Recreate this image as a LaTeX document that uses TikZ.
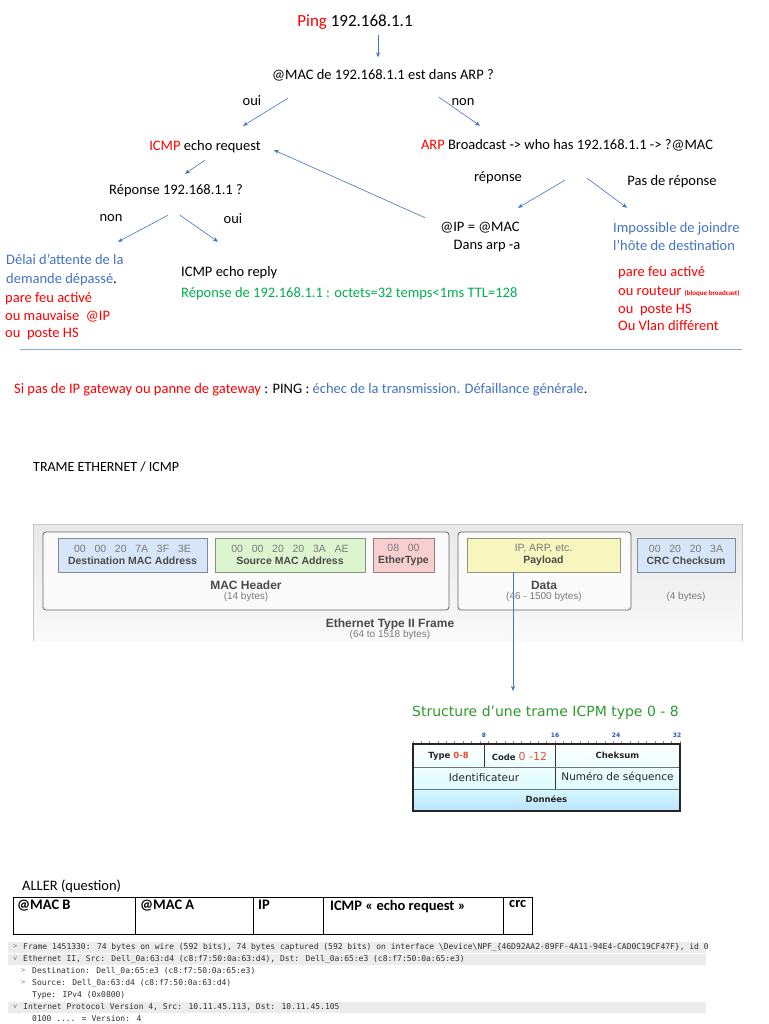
\documentclass[tikz,border=0pt]{standalone}
\usepackage{fontspec}
\setmainfont{Carlito}
\newfontfamily\ethfont{Liberation Sans}
\newfontfamily\vfont{DejaVu Sans}
\newfontfamily\wsfont{DejaVu Sans Mono}
\usetikzlibrary{arrows.meta,calc}
\definecolor{pred}{HTML}{FF0000}
\definecolor{pblue}{HTML}{4472C4}
\definecolor{pgreen}{HTML}{00B050}
\definecolor{arr}{HTML}{4472C4}
\definecolor{sepc}{HTML}{8FAADC}
\definecolor{ethtxt}{HTML}{4A4A4A}
\definecolor{ethhex}{HTML}{7A7A7A}
\definecolor{ored}{HTML}{E8502A}
\definecolor{rulerblue}{HTML}{2A4FC0}
\definecolor{tgreen}{HTML}{2E9B2E}
\definecolor{wsgray}{HTML}{ECECEC}
\definecolor{wstxt}{HTML}{303030}
\definecolor{cblue}{HTML}{D6E6F8}
\definecolor{cgreen}{HTML}{DDF5CF}
\definecolor{cpink}{HTML}{F8CFCF}
\definecolor{cyellow}{HTML}{F6F6BE}
\tikzset{
  txt/.style={inner sep=0pt, text height=10pt, text depth=3pt, font=\fontsize{14.5}{17.5}\selectfont},
  conn/.style={draw=arr, line width=0.6pt, -{Stealth[length=5pt,width=4pt]}},
  ethcell/.style={draw=#1!60!black, line width=0.8pt, fill=#1},
  ethlab/.style={inner sep=0pt, align=center, font=\ethfont\fontsize{10.5}{12}\selectfont, text=ethtxt},
  ethbig/.style={inner sep=0pt, font=\ethfont\bfseries\fontsize{12}{13}\selectfont, text=ethtxt},
  ethsmall/.style={inner sep=0pt, font=\ethfont\fontsize{10}{11}\selectfont, text=ethhex},
  vtxt/.style={inner sep=0pt, font=\vfont\fontsize{9.5}{11}\selectfont, text=black!85},
  celltxt/.style={inner sep=0pt, anchor=north west, font=\bfseries\fontsize{14.5}{17}\selectfont},
  wsline/.style={inner sep=0pt, anchor=west, font=\wsfont\fontsize{8}{10}\selectfont, text=wstxt},
  wsmark/.style={inner sep=0pt, anchor=west, font=\wsfont\fontsize{7}{9}\selectfont, text=black!50},
}
\begin{document}
\begin{tikzpicture}[x=1pt,y=-1pt]
\useasboundingbox (0,0) rectangle (768,1024);
\fill[white] (0,0) rectangle (768,1024);

% ---------- flow chart ----------
\node[txt, text height=12pt, text depth=3.5pt, font=\fontsize{17}{20}\selectfont] (ping) at (355,22) {\textcolor{pred}{Ping} 192.168.1.1};
\node[txt] (q1) at (383,76) {@MAC de 192.168.1.1 est dans ARP ?};
\draw[conn] ($(ping.south)+(23,5)$) -- ($(q1.north)+(-5,-12)$);

\node[txt] (oui1) at (252,102) {oui};
\node[txt] (non1) at (463,102) {non};

\node[txt] (icmpreq) at (205,147) {\textcolor{pred}{ICMP} echo request};
\node[txt] (arp) at (567,146) {\textcolor{pred}{ARP} Broadcast -> who has 192.168.1.1 -> ?@MAC};
\draw[conn] ($(q1.south)+(-95,15.5)$) -- ($(icmpreq.north)+(38,-14.5)$);
\draw[conn] ($(q1.south)+(56,14.5)$) -- ($(arp.north)+(-87,-13.5)$);

\node[txt] (rep) at (176,191) {Réponse 192.168.1.1 ?};
\draw[conn] ($(icmpreq.south)+(0,6.5)$) -- ($(rep.north)+(9,-10.5)$);

\node[txt] (non2) at (111,218) {non};
\node[txt] (oui2) at (233,220) {oui};

\node[txt, anchor=west, text=pblue] (delai1) at (6,261) {Délai d’attente de la};
\node[txt, anchor=west, text=pblue] (delai2) at (6,280) {demande dépassé\textcolor{black}{.}};
\node[txt, anchor=west, text=pred] (pare1a) at (5,299) {pare feu activé};
\node[txt, anchor=west, text=pred] (pare1b) at (5,316.5) {ou mauvaise\ \ @IP};
\node[txt, anchor=west, text=pred] (pare1c) at (5,334) {ou\ \ poste HS};

\node[txt, anchor=west] (reply) at (181,273) {ICMP echo reply};
\node[txt, anchor=west, text=pgreen] (replytxt) at (181,294) {Réponse de 192.168.1.1 : octets=32 temps<1ms TTL=128};

\draw[conn] ($(rep.south)+(-8,17.5)$) -- ($(delai1.north west)+(112,-12.5)$);
\draw[conn] ($(rep.south)+(4,17.5)$) -- ($(reply.north west)+(37,-24.5)$);

\node[txt] (reponse) at (498,178) {réponse};
\node[txt] (pasrep) at (672,182) {Pas de réponse};

\node[txt] (ipmac1) at (480,228) {@IP = @MAC};
\node[txt] (ipmac2) at (487,246) {Dans arp -a};
\node[txt, anchor=west, text=pblue] (imposs1) at (613,229) {Impossible de joindre};
\node[txt, anchor=west, text=pblue] (imposs2) at (613,247) {l’hôte de destination};
\node[txt, anchor=west, text=pred] (pare2a) at (618,273) {pare feu activé};
\node[txt, anchor=west, text=pred] (pare2b) at (618,291.5) {ou routeur {\fontsize{7}{8}\selectfont\bfseries (bloque broadcast)}};
\node[txt, anchor=west, text=pred] (pare2c) at (618,309.5) {ou\ \ poste HS};
\node[txt, anchor=west, text=pred] (pare2d) at (618,326.5) {Ou Vlan différent};

\draw[conn] ($(arp.south)+(-2,27.5)$) -- ($(ipmac1.north)+(38,-13.5)$);
\draw[conn] ($(arp.south)+(20,25.5)$) -- ($(imposs1.north west)+(14,-14.5)$);
\draw[conn] ($(ipmac1.north west)+(-15,-3.5)$) -- ($(icmpreq.east)+(13,3)$);

\draw[sepc, line width=0.8pt] (20,349) -- (742,349);

\node[txt, anchor=west] (gateway) at (14,390) {\textcolor{pred}{Si pas de IP gateway ou panne de gateway} : PING : \textcolor{pblue}{échec de la transmission. Défaillance générale}.};

% ---------- Ethernet frame ----------
\node[txt, anchor=west, font=\fontsize{14}{17}\selectfont] (trame) at (33,468) {TRAME ETHERNET / ICMP};

\shade[top color=black!9, bottom color=black!2] (33,524) rectangle (742,641);
\draw[black!22, line width=0.8pt] (33,641) -- (33,524) -- (742,524) -- (742,641);
\draw[rounded corners=3pt, draw=black!60, line width=0.8pt, fill=black!2] (43,532) rectangle (449,610);
\draw[rounded corners=3pt, draw=black!60, line width=0.8pt, fill=black!2] (458,532) rectangle (631,610);

\node[ethcell=cblue, minimum width=149pt, minimum height=34pt, inner sep=0pt] (dst) at (132.5,555) {};
\node[ethcell=cgreen, minimum width=150pt, minimum height=34pt, inner sep=0pt] (src) at (290,555) {};
\node[ethcell=cpink, minimum width=61pt, minimum height=34pt, inner sep=0pt] (etype) at (403.5,555) {};
\node[ethcell=cyellow, minimum width=153pt, minimum height=34pt, inner sep=0pt] (payload) at (543.5,555) {};
\node[ethcell=cblue, minimum width=98pt, minimum height=34pt, inner sep=0pt] (crc) at (686,555) {};

\node[ethlab] (dstt) at (dst) {\textcolor{ethhex}{00\ \ \ 00\ \ \ 20\ \ \ 7A\ \ \ 3F\ \ \ 3E}\\\textbf{Destination MAC Address}};
\node[ethlab] (srct) at (src) {\textcolor{ethhex}{00\ \ \ 00\ \ \ 20\ \ \ 20\ \ \ 3A\ \ \ AE}\\\textbf{Source MAC Address}};
\node[ethlab] (etypet) at (etype) {\textcolor{ethhex}{08\ \ \ 00}\\\textbf{EtherType}};
\node[ethlab] (payloadt) at (payload) {\textcolor{ethhex}{IP, ARP, etc.}\\\textbf{Payload}};
\node[ethlab] (crct) at (crc) {\textcolor{ethhex}{00\ \ \ 20\ \ \ 20\ \ \ 3A}\\\textbf{CRC Checksum}};

\node[ethbig] (machead) at (246,585) {MAC Header};
\node[ethsmall] (machb) at (246,597) {(14 bytes)};
\node[ethbig] (datal) at (544,585) {Data};
\node[ethsmall] (datab) at (544,597) {(46 - 1500 bytes)};
\node[ethsmall] (crcb) at (686,597) {(4 bytes)};
\node[ethbig] (frame) at (390,624) {Ethernet Type II Frame};
\node[ethsmall] (frameb) at (390,635) {(64 to 1518 bytes)};

% ---------- ICMP structure ----------
\node[inner sep=0pt, font=\vfont\fontsize{14}{16}\selectfont, text=tgreen] (title) at (545.5,713) {Structure d’une trame ICPM type 0 - 8};
\draw[conn] ($(payload.south)+(-30.5,0)$) -- ($(payload.south |- title.north)+(-30.5,-15)$);

\shade[top color=white, bottom color=blue!4!cyan!8] (413,744) rectangle (680,767);
\shade[top color=blue!3!cyan!6, bottom color=blue!12!cyan!14] (413,767) rectangle (680,789);
\shade[top color=blue!18!cyan!16, bottom color=blue!40!cyan!28] (413,789) rectangle (680,811);
\foreach \i in {0,...,32} {
  \draw[black!45, line width=0.5pt] ({413+\i*267/32},741) -- ({413+\i*267/32},744);
}
\draw[black!80, line width=0.6pt] (484,744) -- (484,767);
\draw[black!80, line width=0.6pt] (555,744) -- (555,789);
\draw[black!55, line width=0.6pt] (413,767) -- (680,767);
\draw[black!55, line width=0.6pt] (413,789) -- (680,789);
\draw[black!85, line width=1.8pt] (413,744) rectangle (680,811);

\node[inner sep=0pt, font=\vfont\bfseries\fontsize{6}{7}\selectfont, text=rulerblue] (r8) at (484,735.5) {8};
\node[inner sep=0pt, font=\vfont\bfseries\fontsize{6}{7}\selectfont, text=rulerblue] (r16) at (555,735.5) {16};
\node[inner sep=0pt, font=\vfont\bfseries\fontsize{6}{7}\selectfont, text=rulerblue] (r24) at (616,735.5) {24};
\node[inner sep=0pt, font=\vfont\bfseries\fontsize{6}{7}\selectfont, text=rulerblue] (r32) at (677,735.5) {32};

\node[vtxt, font=\vfont\bfseries\fontsize{8.5}{10}\selectfont] (ftype) at (448.5,756) {Type \textcolor{ored}{0-8}};
\node[vtxt, font=\vfont\bfseries\fontsize{8.5}{10}\selectfont] (fcode) at (519.5,756) {Code {\mdseries\fontsize{11}{12}\selectfont\textcolor{ored}{0 -12}}};
\node[vtxt, font=\vfont\bfseries\fontsize{8.5}{10}\selectfont] (fcheck) at (617.5,755) {Cheksum};
\node[vtxt, font=\vfont\fontsize{10.5}{12}\selectfont] (fident) at (484,778) {Identificateur};
\node[vtxt, font=\vfont\fontsize{10.5}{12}\selectfont] (fseq) at (617.5,777) {Numéro de séquence};
\node[vtxt, font=\vfont\bfseries\fontsize{8.5}{10}\selectfont] (fdata) at (546.5,799) {Données};

% ---------- ALLER ----------
\node[txt, anchor=west] (aller) at (22,887) {ALLER (question)};
\draw[black, line width=0.8pt] (13,897) rectangle (532,934);
\foreach \xx in {135,253,323,503} { \draw[black, line width=0.8pt] (\xx,897) -- (\xx,934); }
\node[celltxt] (cmacb) at (17,900) {@MAC B};
\node[celltxt] (cmaca) at (140,900) {@MAC A};
\node[celltxt] (cip) at (258,900) {IP};
\node[celltxt] (cicmp) at (330,900) {ICMP « echo request »};
\node[celltxt] (ccrc) at (509,900) {crc};

% ---------- Wireshark ----------
\fill[wsgray] (8,941.5) rectangle (706,952.5);
\fill[wsgray] (8,953.5) rectangle (706,964.5);
\fill[wsgray] (8,1001.5) rectangle (706,1012.5);

\node[wsmark] (m1) at (13,947) {>};
\node[wsline] (w1) at (23,947) {Frame 1451330: 74 bytes on wire (592 bits), 74 bytes captured (592 bits) on interface \textbackslash Device\textbackslash NPF\_\{46D92AA2-89FF-4A11-94E4-CAD0C19CF47F\}, id 0};
\node[wsmark] (m2) at (13,959) {v};
\node[wsline] (w2) at (23,959) {Ethernet II, Src: Dell\_0a:63:d4 (c8:f7:50:0a:63:d4), Dst: Dell\_0a:65:e3 (c8:f7:50:0a:65:e3)};
\node[wsmark] (m3) at (21,971) {>};
\node[wsline] (w3) at (32,971) {Destination: Dell\_0a:65:e3 (c8:f7:50:0a:65:e3)};
\node[wsmark] (m4) at (21,983) {>};
\node[wsline] (w4) at (32,983) {Source: Dell\_0a:63:d4 (c8:f7:50:0a:63:d4)};
\node[wsline] (w5) at (32,995) {Type: IPv4 (0x0800)};
\node[wsmark] (m6) at (13,1007) {v};
\node[wsline] (w6) at (23,1007) {Internet Protocol Version 4, Src: 10.11.45.113, Dst: 10.11.45.105};
\node[wsline] (w7) at (32,1019) {0100 .... = Version: 4};
\end{tikzpicture}
\end{document}
